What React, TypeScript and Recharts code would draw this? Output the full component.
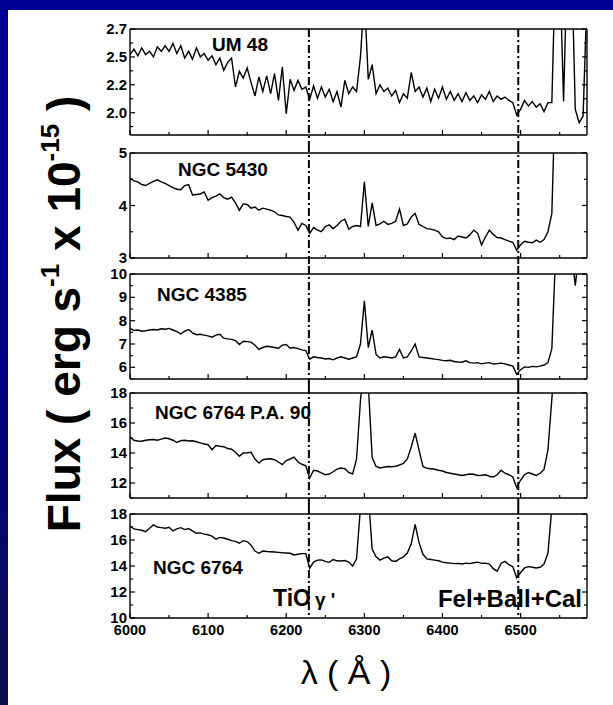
import React from "react";
import { LineChart, Line, XAxis, YAxis, ReferenceLine } from "recharts";

// ---------- data ----------
const wavelengths = [
  6000, 6005, 6010, 6015, 6020, 6025, 6030, 6035, 6040, 6045,
  6050, 6055, 6060, 6065, 6070, 6075, 6080, 6085, 6090, 6095,
  6100, 6105, 6110, 6115, 6120, 6125, 6130, 6135, 6140, 6145,
  6150, 6155, 6160, 6165, 6170, 6175, 6180, 6185, 6190, 6195,
  6200, 6205, 6210, 6215, 6220, 6225, 6230, 6235, 6240, 6245,
  6250, 6255, 6260, 6265, 6270, 6275, 6280, 6285, 6290, 6295,
  6300, 6305, 6310, 6315, 6320, 6325, 6330, 6335, 6340, 6345,
  6350, 6355, 6360, 6365, 6370, 6375, 6380, 6385, 6390, 6395,
  6400, 6405, 6410, 6415, 6420, 6425, 6430, 6435, 6440, 6445,
  6450, 6455, 6460, 6465, 6470, 6475, 6480, 6485, 6490, 6495,
  6500, 6505, 6510, 6515, 6520, 6525, 6530, 6535, 6540, 6545,
  6550, 6555, 6560, 6565, 6570, 6575, 6580, 6585,
];

const um48Flux = [
  2.47, 2.52, 2.46, 2.53, 2.47, 2.50, 2.45, 2.54, 2.50, 2.55,
  2.50, 2.57, 2.48, 2.55, 2.44, 2.50, 2.43, 2.53, 2.45, 2.48,
  2.42, 2.46, 2.38, 2.44, 2.33, 2.40, 2.44, 2.18, 2.32, 2.26,
  2.35, 2.22, 2.10, 2.27, 2.14, 2.28, 2.12, 2.30, 2.06, 2.36,
  1.94, 2.25, 2.15, 2.24, 2.16, 2.18, 2.07, 2.19, 2.08, 2.18,
  2.09, 2.16, 2.05, 2.14, 2.00, 2.24, 2.12, 2.18, 2.14, 2.45,
  3.00, 2.25, 2.38, 2.12, 2.20, 2.14, 2.17, 2.10, 2.15, 2.04,
  2.12, 2.08, 2.31, 2.14, 2.18, 2.09, 2.17, 2.05, 2.16, 2.08,
  2.18, 2.07, 2.14, 2.06, 2.12, 2.05, 2.13, 2.06, 2.10, 2.04,
  2.11, 2.07, 2.14, 2.05, 2.10, 2.07, 2.09, 2.06, 2.04, 1.93,
  1.98, 2.06, 2.01, 2.05, 2.00, 2.03, 1.96, 2.04, 2.04, 3.40,
  3.30, 2.05, 3.40, 3.40, 1.98, 1.86, 1.92, 3.00,
];

const ngc5430Flux = [
  4.52, 4.47, 4.45, 4.40, 4.38, 4.42, 4.46, 4.49, 4.45, 4.42,
  4.38, 4.34, 4.31, 4.30, 4.38, 4.40, 4.20, 4.21, 4.22, 4.26,
  4.10, 4.15, 4.18, 4.22, 4.15, 4.12, 4.16, 4.05, 3.91, 4.03,
  4.02, 3.95, 3.97, 3.91, 3.95, 3.93, 3.91, 3.88, 3.82, 3.81,
  3.79, 3.78, 3.68, 3.53, 3.66, 3.62, 3.47, 3.58, 3.53, 3.50,
  3.60, 3.63, 3.56, 3.62, 3.70, 3.74, 3.55, 3.60, 3.62, 3.60,
  4.45, 3.60, 4.05, 3.62, 3.65, 3.70, 3.64, 3.66, 3.70, 3.93,
  3.62, 3.65, 3.78, 3.85, 3.64, 3.60, 3.56, 3.55, 3.53, 3.50,
  3.40, 3.37, 3.38, 3.35, 3.42, 3.40, 3.38, 3.44, 3.53, 3.47,
  3.25, 3.40, 3.53, 3.45, 3.39, 3.38, 3.35, 3.32, 3.30, 3.15,
  3.25, 3.32, 3.30, 3.29, 3.34, 3.30, 3.35, 3.50, 3.85, 6.50,
  6.50, 6.50, 6.50, 6.50, 6.50, 6.50, 6.50, 6.50,
];

const ngc4385Flux = [
  7.67, 7.58, 7.60, 7.55, 7.57, 7.60, 7.62, 7.60, 7.65, 7.63,
  7.67, 7.60, 7.53, 7.43, 7.55, 7.62, 7.48, 7.40, 7.42, 7.38,
  7.35, 7.29, 7.38, 7.42, 7.25, 7.22, 7.20, 7.15, 6.98, 7.12,
  7.10, 7.08, 6.95, 6.77, 6.85, 6.90, 6.88, 6.85, 6.82, 6.95,
  6.98, 6.82, 6.85, 6.80, 6.75, 6.72, 6.35, 6.45, 6.42, 6.40,
  6.36, 6.38, 6.32, 6.40, 6.45, 6.40, 6.35, 6.40, 6.45, 7.00,
  8.85, 6.85, 7.60, 6.55, 6.40, 6.45, 6.43, 6.40, 6.45, 6.77,
  6.40, 6.45, 6.70, 7.00, 6.45, 6.42, 6.40, 6.38, 6.35, 6.33,
  6.30, 6.28, 6.30, 6.25, 6.23, 6.22, 6.28, 6.20, 6.18, 6.20,
  6.15, 6.18, 6.20, 6.14, 6.16, 6.18, 6.15, 6.10, 6.05, 5.70,
  5.90, 6.02, 6.00, 6.04, 6.02, 6.05, 6.10, 6.20, 6.80, 11.0,
  11.0, 11.0, 11.0, 11.0, 9.50, 11.0, 11.0, 11.0,
];

const ngc6764pa90Flux = [
  15.07, 14.85, 14.80, 14.78, 14.85, 14.88, 14.90, 14.85, 14.92, 15.00,
  14.95, 14.85, 14.70, 14.82, 14.85, 14.80, 14.82, 14.75, 14.68, 14.60,
  14.55, 14.22, 14.50, 14.45, 14.42, 14.30, 14.25, 14.05, 13.78, 14.00,
  14.02, 14.05, 13.60, 13.33, 13.55, 13.60, 13.62, 13.55, 13.40, 13.22,
  13.50, 13.60, 13.73, 13.40, 13.25, 13.15, 12.33, 12.85, 12.80, 12.67,
  12.55, 12.60, 12.75, 12.93, 13.00, 12.95, 12.70, 12.60, 13.60, 17.50,
  20.00, 18.60, 13.70, 13.10, 13.00, 13.05, 13.10, 13.08, 13.12, 13.20,
  13.30, 13.60, 14.40, 15.33, 14.20, 13.10, 12.98, 12.95, 12.92, 12.85,
  12.80, 12.70, 12.65, 12.60, 12.55, 12.50, 12.55, 12.60, 12.58, 12.50,
  12.52, 12.55, 12.45, 12.40, 12.55, 12.85, 12.65, 12.55, 12.40, 11.70,
  12.20, 12.55, 12.70, 12.60, 12.50, 12.65, 12.90, 14.20, 17.60, 21.00,
  21.00, 21.00, 21.00, 21.00, 21.00, 21.00, 21.00, 21.00,
];

const ngc6764Flux = [
  17.08, 16.85, 16.80, 16.75, 16.64, 16.90, 17.16, 17.00, 16.95, 16.90,
  16.98, 16.70, 16.85, 16.95, 16.80, 16.88, 16.70, 16.52, 16.55, 16.45,
  16.40, 16.30, 16.06, 16.20, 16.15, 16.06, 15.95, 15.90, 15.75, 15.95,
  15.88, 15.60, 15.15, 14.98, 15.15, 15.12, 15.10, 15.08, 15.05, 15.02,
  15.00, 14.98, 14.85, 14.90, 14.95, 14.95, 13.83, 14.30, 14.45, 14.47,
  14.35, 14.28, 14.50, 14.40, 14.38, 14.42, 14.30, 14.00, 14.55, 18.50,
  20.00, 19.50, 15.30, 14.70, 14.45, 14.60, 14.70, 14.40, 14.35, 14.55,
  14.70, 15.00, 15.70, 17.20, 15.80, 14.90, 14.55, 14.50, 14.45, 14.40,
  14.30, 14.25, 14.22, 14.18, 14.20, 14.15, 14.22, 14.18, 14.25, 14.30,
  14.20, 14.22, 14.15, 13.80, 13.60, 14.20, 14.35, 14.10, 13.95, 13.10,
  13.50, 13.85, 13.95, 13.90, 13.85, 13.90, 14.15, 15.00, 18.50, 22.00,
  22.00, 22.00, 22.00, 22.00, 22.00, 22.00, 22.00, 22.00,
];

const panelNames = ["UM 48", "NGC 5430", "NGC 4385", "NGC 6764 P.A. 90", "NGC 6764"];
const panelFluxes = [um48Flux, ngc5430Flux, ngc4385Flux, ngc6764pa90Flux, ngc6764Flux];
const panelDomains = [[1.75, 2.7], [3, 5], [5.5, 10], [11, 18], [10, 18]];
const panelMajorTicks = [
  [1.95, 2.2, 2.45, 2.7],
  [3, 4, 5],
  [6, 7, 8, 9, 10],
  [12, 14, 16, 18],
  [10, 12, 14, 16, 18],
];
const panelMajorLabels = [
  ["2.0", "2.2", "2.5", "2.7"],
  ["3", "4", "5"],
  ["6", "7", "8", "9", "10"],
  ["12", "14", "16", "18"],
  ["10", "12", "14", "16", "18"],
];
const panelMinorTicks = [
  [1.825, 2.075, 2.325, 2.575],
  [3.5, 4.5],
  [5.5, 6.5, 7.5, 8.5, 9.5],
  [11, 13, 15, 17],
  [11, 13, 15, 17],
];

const xDomain = [6000, 6585];
const xMajorTicks = [6000, 6100, 6200, 6300, 6400, 6500];
const xMinorTicks = [6050, 6150, 6250, 6350, 6450, 6550];
const featureWavelengths = [6229, 6497];

// ---------- layout ----------
const W = 613;
const H = 705;
const PLOT_LEFT = 130;
const PLOT_RIGHT = 587;
const AXIS_T = 1; // thickness reserved for each axis (must be > 0 to render)
const panelLayout = [
  { top: 29, h: 106, padTop: 14, padBottom: 14, extUp: 0, extDown: 9 },
  { top: 153, h: 105, padTop: 14, padBottom: 14, extUp: 9, extDown: 8 },
  { top: 274, h: 105, padTop: 14, padBottom: 14, extUp: 8, extDown: 7 },
  { top: 393, h: 105, padTop: 14, padBottom: 14, extUp: 7, extDown: 8 },
  { top: 514, h: 104, padTop: 14, padBottom: 32, extUp: 8, extDown: 0 },
];
const labelPos = [
  { x: 212, y: 51 },
  { x: 178, y: 176 },
  { x: 157, y: 301 },
  { x: 155, y: 419 },
  { x: 153, y: 574 },
];
const FONT = "'Liberation Sans', Arial, Helvetica, sans-serif";
const TICK_W = 1.2;

function LeftTick(props: any) {
  const { x, y, payload, majors, labels } = props;
  const i = majors.indexOf(payload.value);
  const len = i >= 0 ? 5 : 3;
  return (
    <g>
      <line x1={x} y1={y} x2={x + len} y2={y} stroke="#000" strokeWidth={TICK_W} />
      {i >= 0 && (
        <text x={x - 3} y={y} dy={5} textAnchor="end" fontFamily={FONT} fontWeight="bold" fontSize={15} fill="#000">
          {labels[i]}
        </text>
      )}
    </g>
  );
}

function RightTick(props: any) {
  const { x, y, payload, majors } = props;
  const len = majors.indexOf(payload.value) >= 0 ? 5 : 3;
  return <line x1={x} y1={y} x2={x - len} y2={y} stroke="#000" strokeWidth={TICK_W} />;
}

function BottomTick(props: any) {
  const { x, y, payload, showLabel } = props;
  const major = xMajorTicks.indexOf(payload.value) >= 0;
  return (
    <g>
      <line x1={x} y1={y} x2={x} y2={y - (major ? 5 : 3)} stroke="#000" strokeWidth={TICK_W} />
      {showLabel && major && (
        <text x={x} y={y + 17} textAnchor="middle" fontFamily={FONT} fontWeight="bold" fontSize={14.5} fill="#000">
          {payload.value}
        </text>
      )}
    </g>
  );
}

function TopTick(props: any) {
  const { x, y, payload } = props;
  const major = xMajorTicks.indexOf(payload.value) >= 0;
  return <line x1={x} y1={y} x2={x} y2={y + (major ? 5 : 3)} stroke="#000" strokeWidth={TICK_W} />;
}

function Panel({ index }: { index: number }) {
  const lay = panelLayout[index];
  const flux = panelFluxes[index];
  const rows = wavelengths.map((w, i) => ({ w, f: flux[i] }));
  const majors = panelMajorTicks[index];
  const labels = panelMajorLabels[index];
  const yTicks = [...majors, ...panelMinorTicks[index]].sort((a, b) => a - b);
  const xTicks = [...xMajorTicks, ...xMinorTicks].sort((a, b) => a - b);
  const height = lay.padTop + lay.h + lay.padBottom;
  const isLast = index === panelLayout.length - 1;
  const axisLine = { stroke: "#000", strokeWidth: 1.4 };
  return (
    <div style={{ position: "absolute", left: 0, top: lay.top - lay.padTop, width: W, height }}>
      <LineChart
        width={W}
        height={height}
        data={rows}
        margin={{
          top: lay.padTop - AXIS_T,
          bottom: lay.padBottom - AXIS_T,
          left: PLOT_LEFT - AXIS_T,
          right: W - PLOT_RIGHT - AXIS_T,
        }}
      >
        <XAxis
          dataKey="w"
          type="number"
          domain={xDomain}
          allowDataOverflow
          ticks={xTicks}
          interval={0}
          height={AXIS_T}
          tickSize={0}
          tickMargin={0}
          tickLine={false}
          axisLine={axisLine}
          tick={(p: any) => <BottomTick {...p} showLabel={isLast} />}
        />
        <XAxis
          xAxisId="top"
          orientation="top"
          type="number"
          domain={xDomain}
          allowDataOverflow
          ticks={xTicks}
          interval={0}
          height={AXIS_T}
          tickSize={0}
          tickMargin={0}
          tickLine={false}
          axisLine={axisLine}
          tick={(p: any) => <TopTick {...p} />}
        />
        <YAxis
          type="number"
          domain={panelDomains[index]}
          allowDataOverflow
          ticks={yTicks}
          interval={0}
          width={AXIS_T}
          tickSize={0}
          tickMargin={0}
          tickLine={false}
          axisLine={axisLine}
          tick={(p: any) => <LeftTick {...p} majors={majors} labels={labels} />}
        />
        <YAxis
          yAxisId="right"
          orientation="right"
          type="number"
          domain={panelDomains[index]}
          allowDataOverflow
          ticks={yTicks}
          interval={0}
          width={AXIS_T}
          tickSize={0}
          tickMargin={0}
          tickLine={false}
          axisLine={axisLine}
          tick={(p: any) => <RightTick {...p} majors={majors} />}
        />
        {featureWavelengths.map((fw) => (
          <ReferenceLine
            key={fw}
            x={fw}
            ifOverflow="visible"
            shape={(p: any) => (
              <line
                x1={p.x1}
                x2={p.x2}
                y1={Math.min(p.y1, p.y2) - lay.extUp}
                y2={Math.max(p.y1, p.y2) + lay.extDown}
                stroke="#000"
                strokeWidth={2}
                strokeDasharray="8 3 2 3"
              />
            )}
          />
        ))}
        <Line
          dataKey="f"
          type="linear"
          stroke="#000"
          strokeWidth={1.4}
          dot={false}
          activeDot={false}
          isAnimationActive={false}
        />
      </LineChart>
    </div>
  );
}

export default function App() {
  return (
    <div
      style={{
        position: "absolute",
        left: 0,
        top: 0,
        width: W,
        height: H,
        overflow: "hidden",
        background: "linear-gradient(to bottom, #000099 0%, #000088 50%, #0c0c4e 100%)",
      }}
    >
      <div style={{ position: "absolute", left: 8, top: 10, right: 0, bottom: 0, background: "#fff" }} />
      {panelLayout.map((_, i) => (
        <Panel key={i} index={i} />
      ))}
      <svg width={W} height={H} style={{ position: "absolute", left: 0, top: 0, pointerEvents: "none" }}>
        <g fontFamily={FONT} fontWeight="bold" fill="#000">
          {panelNames.map((n, i) => (
            <text key={n} x={labelPos[i].x} y={labelPos[i].y} fontSize={19}>
              {n}
            </text>
          ))}
          <text x={273} y={606} fontSize={23}>
            TiO<tspan fontSize={19} dx={4}>γ '</tspan>
          </text>
          <text x={582} y={607} fontSize={24} textAnchor="end">
            Fel+Ball+Cal
          </text>
          <text transform="translate(80,314) rotate(-90)" textAnchor="middle" fontSize={46}>
            Flux ( erg s
            <tspan fontSize={26} dy={-21}>
              -1
            </tspan>
            <tspan dy={21}> x 10</tspan>
            <tspan fontSize={26} dy={-21}>
              -15
            </tspan>
            <tspan dy={21}> )</tspan>
          </text>
        </g>
        <text x={346} y={684} fontFamily={FONT} fontSize={34} textAnchor="middle" fill="#000">
          λ ( Å )
        </text>
      </svg>
    </div>
  );
}
